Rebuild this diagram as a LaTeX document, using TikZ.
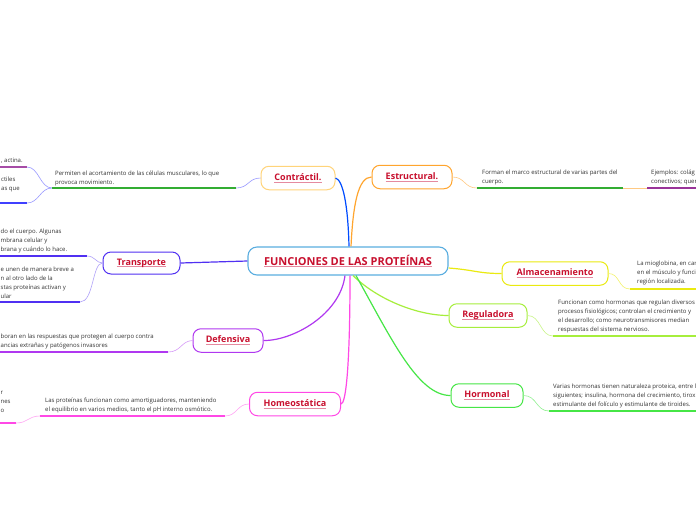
\documentclass[tikz,border=0pt]{standalone}
\usepackage{fontspec}
\setmainfont{Open Sans}
\usepackage{xcolor}
\usetikzlibrary{calc,positioning}

\definecolor{titlered}{HTML}{C8102E}
\definecolor{ulpink}{HTML}{E58A9F}
\definecolor{notegray}{HTML}{333333}
\definecolor{rootblue}{HTML}{5AAEE0}
\definecolor{contrcol}{HTML}{FFD47A}
\definecolor{estrcol}{HTML}{FFA52E}
\definecolor{transpcol}{HTML}{5030F2}
\definecolor{defcol}{HTML}{B038F0}
\definecolor{homeocol}{HTML}{FF48E6}
\definecolor{almcol}{HTML}{EAEA10}
\definecolor{regulcol}{HTML}{A6EE3C}
\definecolor{hormcol}{HTML}{46E646}

\newcommand{\ulabel}[1]{\setbox0\hbox{#1}\rlap{\textcolor{ulpink}{\rule[-2pt]{\wd0}{0.9pt}}}\box0}

\begin{document}
\begin{tikzpicture}[x=1pt, y=-1pt,
    rootbox/.style={draw=rootblue, line width=1.1pt, rounded corners=9pt, fill=white,
        minimum width=200pt, minimum height=28pt, inner sep=0pt, text=titlered,
        font=\fontsize{11}{13}\selectfont\bfseries},
    topicbox/.style={line width=1pt, rounded corners=8pt, fill=white,
        minimum height=23.5pt, inner sep=0pt, text=titlered,
        font=\fontsize{9}{11}\selectfont\bfseries},
    notetext/.style={inner sep=0pt, align=left, anchor=south west, text=notegray,
        font=\fontsize{6}{9}\selectfont},
    branch/.style={line width=1.2pt},
    twig/.style={line width=0.6pt},
    uline/.style={line width=1.3pt}]

    \useasboundingbox (0,0) rectangle (696,520);
    \fill[white] (0,0) rectangle (696,520);
    \clip (0,0) rectangle (696,520);

    % ---- Centre and main topics ----
    \node[rootbox] (root) at (348,261) {\ulabel{FUNCIONES DE LAS PROTEÍNAS}};

    \node[topicbox, draw=contrcol, minimum width=74pt] (contr) at (298,178) {\ulabel{Contráctil.}};
    \node[topicbox, draw=estrcol, minimum width=80pt] (estr) at (412,177) {\ulabel{Estructural.}};
    \node[topicbox, draw=transpcol, minimum width=77pt, minimum height=22pt] (transp) at (141.5,263) {\ulabel{Transporte}};
    \node[topicbox, draw=defcol, minimum width=70pt] (def) at (228,340.5) {\ulabel{Defensiva}};
    \node[topicbox, draw=homeocol, minimum width=91pt] (homeo) at (295,404) {\ulabel{Homeostática}};
    \node[topicbox, draw=almcol, minimum width=106pt] (alm) at (555,273.5) {\ulabel{Almacenamiento}};
    \node[topicbox, draw=regulcol, minimum width=78pt] (regul) at (488,315.5) {\ulabel{Reguladora}};
    \node[topicbox, draw=hormcol, minimum width=72pt] (horm) at (487,395.5) {\ulabel{Hormonal}};

    % Branches from the centre
    \draw[branch, color=blue!70!cyan] ($(root.north)+(1,0)$) .. controls (348,205) and (343,180) .. (contr.east);
    \draw[branch, estrcol] ($(root.north)+(3,0)$) .. controls (353,205) and (358,177) .. (estr.west);
    \draw[branch, transpcol] (root.west) -- (transp.east);
    \draw[branch, defcol] ($(root.south)+(-3,0)$) .. controls (340,315) and (292,341) .. (def.east);
    \draw[branch, homeocol] ($(root.south)+(2,0)$) .. controls (350,365) and (346,404) .. (homeo.east);
    \draw[branch, almcol] ($(root.east)+(0,7)$) .. controls (475,270) and (478,273.5) .. (alm.west);
    \draw[branch, regulcol] ($(root.south)+(5,0)$) .. controls (378,300) and (418,315.5) .. (regul.west);
    \draw[branch, hormcol] ($(root.south)+(8,0)$) .. controls (392,340) and (418,395.5) .. (horm.west);

    % ---- Contractil ----
    \coordinate (contrA) at (236,188);
    \coordinate (contrB) at (52,188);
    \draw[twig, blue!40] (contr.west) .. controls (248,178) and (249,188) .. (contrA);
    \draw[uline, green!60!black!80] (contrA) -- (contrB);
    \node[notetext] (contrnote) at (55,186) {Permiten el acortamiento de las células musculares, lo que\\provoca movimiento.};

    \coordinate (actA) at (27,167);
    \coordinate (actB) at (-2,167);
    \coordinate (celA) at (27,203);
    \coordinate (celB) at (-2,203);
    \draw[twig, blue!40] (contrB) .. controls (40,188) and (39,167) .. (actA);
    \draw[twig, blue!40] (contrB) .. controls (40,188) and (39,203) .. (celA);
    \draw[uline, violet!70] (actA) -- (actB);
    \draw[uline, blue!75] (celA) -- (celB);
    \node[notetext] (actnote) at (1,163.5) {, actina.};
    \node[notetext] (celnote) at (1,192) {ctiles\\as que};

    % ---- Estructural ----
    \coordinate (estrA) at (477,188);
    \coordinate (estrB) at (623,188);
    \coordinate (ejemA) at (647,188);
    \coordinate (ejemB) at (700,188);
    \draw[twig, estrcol!60] (estr.east) .. controls (465,177) and (464,188) .. (estrA);
    \draw[uline, green!60!black!80] (estrA) -- (estrB);
    \draw[twig, estrcol!60] (estrB) -- (ejemA);
    \draw[uline, violet!80] (ejemA) -- (ejemB);
    \node[notetext] (estrnote) at (482,185) {Forman el marco estructural de varias partes del\\cuerpo.};
    \node[notetext] (ejemnote) at (651,185) {Ejemplos: colág\\conectivos; quer};

    % ---- Transporte ----
    \coordinate (memA) at (87,256);
    \coordinate (memB) at (-2,256);
    \coordinate (canA) at (80,302);
    \coordinate (canB) at (-2,302);
    \draw[twig, transpcol!45] (transp.west) .. controls (96,263) and (95,256) .. (memA);
    \draw[twig, transpcol!45] (transp.west) .. controls (92,263) and (94,302) .. (canA);
    \draw[uline, transpcol] (memA) -- (memB);
    \draw[uline, transpcol] (canA) -- (canB);
    \node[notetext] (memnote) at (0.5,253) {do el cuerpo. Algunas\\mbrana celular y\\brana y cuándo lo hace.};
    \node[notetext] (cannote) at (0.5,299) {e unen de manera breve a\\n al otro lado de la\\stas proteínas activan y\\ular};

    % ---- Defensiva ----
    \coordinate (defA) at (168,352);
    \coordinate (defB) at (-2,352);
    \draw[twig, defcol!50] (def.west) .. controls (181,341) and (181,352) .. (defA);
    \draw[uline, defcol] (defA) -- (defB);
    \node[notetext] (defnote) at (0.5,349) {boran en las respuestas que protegen al cuerpo contra\\ancias extrañas y patógenos invasores};

    % ---- Homeostatica ----
    \coordinate (homA) at (225,416);
    \coordinate (homB) at (40,416);
    \coordinate (homC) at (16,423);
    \coordinate (homD) at (-2,423);
    \draw[twig, homeocol!50] (homeo.west) .. controls (237,404) and (237,416) .. (homA);
    \draw[uline, homeocol] (homA) -- (homB);
    \draw[twig, homeocol!50] (homB) .. controls (28,416) and (28,423) .. (homC);
    \draw[uline, homeocol] (homC) -- (homD);
    \node[notetext] (homnote) at (45,413) {Las proteínas funcionan como amortiguadores, manteniendo\\el equilibrio en varios medios, tanto el pH interno osmótico.};
    \node[notetext] (homleft) at (0.5,413) {r\\nes\\o};

    % ---- Almacenamiento ----
    \coordinate (almA) at (630,289);
    \coordinate (almB) at (700,289);
    \draw[twig, almcol!60] (alm.east) .. controls (620,273.5) and (618,289) .. (almA);
    \draw[uline, almcol] (almA) -- (almB);
    \node[notetext] (almnote) at (637,285) {La mioglobina, en car\\en el músculo y funci\\región localizada.};

    % ---- Reguladora ----
    \coordinate (regA) at (553,336);
    \coordinate (regB) at (700,336);
    \draw[twig, regulcol!60] (regul.east) .. controls (541,315.5) and (540,336) .. (regA);
    \draw[uline, regulcol] (regA) -- (regB);
    \node[notetext] (regnote) at (558,333) {Funcionan como hormonas que regulan diversos\\procesos fisiológicos; controlan el crecimiento y\\el desarrollo; como neurotransmisores median\\respuestas del sistema nervioso.};

    % ---- Hormonal ----
    \coordinate (horA) at (549,411);
    \coordinate (horB) at (700,411);
    \draw[twig, hormcol!60] (horm.east) .. controls (537,395.5) and (536,411) .. (horA);
    \draw[uline, hormcol] (horA) -- (horB);
    \node[notetext] (hornote) at (553,408) {Varias hormonas tienen naturaleza proteica, entre l\\siguientes; insulina, hormona del crecimiento, tiroxi\\estimulante del folículo y estimulante de tiroides.};
\end{tikzpicture}
\end{document}
